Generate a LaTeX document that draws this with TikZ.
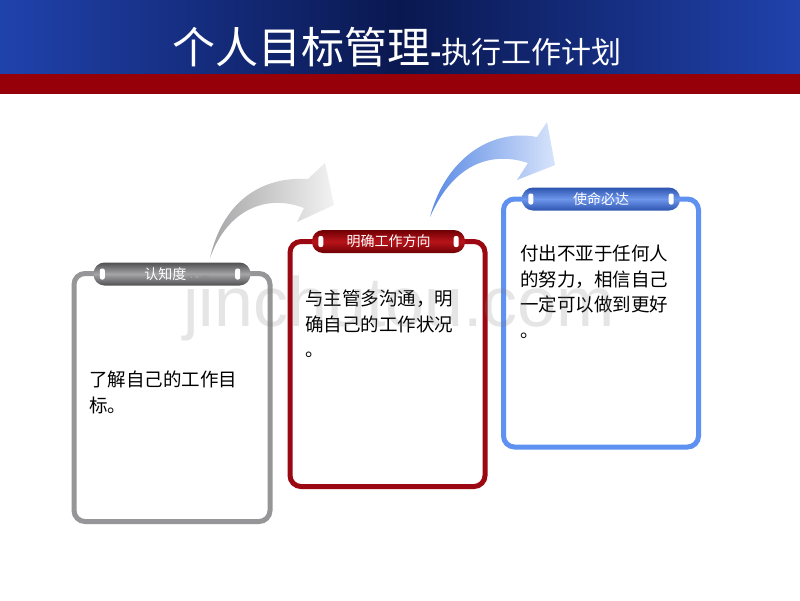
\documentclass[tikz,border=0pt]{standalone}
\usepackage{fontspec}
\setmainfont{Liberation Sans}
\newfontfamily\cjk{Noto Sans CJK SC}
\newfontfamily\wmfont{Liberation Sans}
\definecolor{navyA}{RGB}{10,24,80}
\definecolor{navyB}{RGB}{32,66,172}
\definecolor{bandred}{RGB}{150,0,8}
\definecolor{frgray}{RGB}{150,150,152}
\definecolor{frred}{RGB}{155,8,18}
\definecolor{frblue}{RGB}{95,145,240}
\definecolor{pgrayD}{RGB}{80,80,82}
\definecolor{pgrayL}{RGB}{165,165,168}
\definecolor{predD}{RGB}{110,0,5}
\definecolor{predL}{RGB}{185,20,25}
\definecolor{pblueD}{RGB}{45,85,175}
\definecolor{pblueL}{RGB}{110,150,235}
\begin{document}
\begin{tikzpicture}[x=1pt,y=-1pt,
  frame/.style={draw, line width=5pt, rounded corners=11pt, inner sep=0pt, fill=white},
  pill/.style={rounded corners=11pt, minimum height=23pt, inner sep=0pt, text=white, font=\cjk\fontsize{14}{14}\selectfont},
  slot/.style={fill=white, rounded corners=2pt, minimum width=5pt, minimum height=11pt, inner sep=0pt},
  body/.style={anchor=north west, align=left, inner sep=0pt, font=\cjk\fontsize{18.5}{25.5}\selectfont, text=black}]
\useasboundingbox (0,0) rectangle (800,600);
\fill[white] (0,0) rectangle (800,600);
% header
\shade[left color=navyB, right color=navyB, middle color=navyA] (0,0) rectangle (800,75);
\fill[bandred] (0,74) rectangle (800,94);
\node[text=white, anchor=base, inner sep=0pt] (title) at (397,63)
  {\cjk\fontsize{43}{43}\selectfont 个人目标管理\fontsize{30}{30}\selectfont\textbf{-}执行工作计划};

% gray arrow
\shade[left color=frgray!85, right color=frgray!12!white]
  (210,258) .. controls (222,205) and (258,176) .. (308,179)
  -- (325,163) -- (334,205) -- (297,222) -- (304,208)
  .. controls (268,194) and (228,208) .. (210,258) -- cycle;
% blue arrow
\shade[left color=frblue!95!black, right color=frblue!25!white]
  (430,217) .. controls (445,160) and (490,128) .. (537,137)
  -- (547,122) -- (555,165) -- (517,180) -- (528,163)
  .. controls (495,152) and (455,160) .. (430,217) -- cycle;

% box 1
\node[frame, draw=frgray, minimum width=196pt, minimum height=248pt] (f1) at (172,397.5) {};
\node[pill, minimum width=157pt, top color=pgrayD, bottom color=pgrayD, middle color=pgrayL] (p1) at (172,274) {认知度\,\textcolor{gray!60}{\tiny▪\,▪}};
\node[slot] (s1a) at ([xshift=9pt]p1.west) {};
\node[slot] (s1b) at ([xshift=-13pt]p1.east) {};
\node[body] (t1) at (89,371) {了解自己的工作目\\标。};

% box 2
\node[frame, draw=frred, minimum width=195pt, minimum height=245pt] (f2) at (387.5,364) {};
\node[pill, minimum width=153pt, top color=predD, bottom color=predD, middle color=predL] (p2) at (388.5,241.5) {明确工作方向};
\node[slot] (s2a) at ([xshift=9pt]p2.west) {};
\node[slot] (s2b) at ([xshift=-9pt]p2.east) {};
\node[body] (t2) at (305,290) {与主管多沟通，明\\确自己的工作状况\\。};

% box 3
\node[frame, draw=frblue, minimum width=195pt, minimum height=248pt] (f3) at (601,323) {};
\node[pill, minimum width=158pt, top color=pblueD, bottom color=pblueD, middle color=pblueL] (p3) at (601,199) {使命必达};
\node[slot] (s3a) at ([xshift=9pt]p3.west) {};
\node[slot] (s3b) at ([xshift=-9pt]p3.east) {};
\node[body] (t3) at (520,245) {付出不亚于任何人\\的努力，相信自己\\一定可以做到更好\\。};

% watermark
\node[text=gray, opacity=0.2, inner sep=0pt, anchor=base west] (wm) at (183,326) {\wmfont\fontsize{70}{70}\selectfont jinchutou.com};
\end{tikzpicture}
\end{document}
